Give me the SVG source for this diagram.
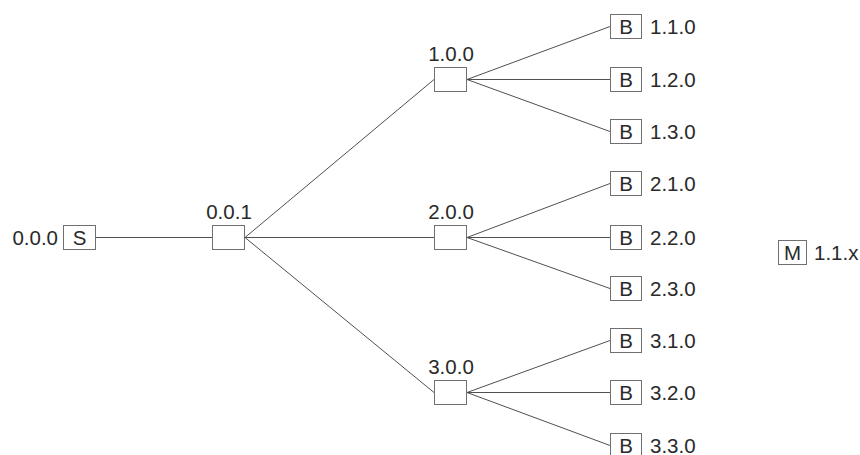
<svg xmlns="http://www.w3.org/2000/svg" width="860" height="455" viewBox="0 0 860 455">
<style>
  .box { fill: #ffffff; stroke: #707070; stroke-width: 1; }
  .t { font-family: "Liberation Sans", Arial, sans-serif; font-size: 20.5px; fill: #2a2a2a; }
  .c { text-anchor: middle; }
  .r { text-anchor: end; }
  .edge { stroke: #505050; stroke-width: 1; fill: none; }
</style>
<rect width="860" height="455" fill="#ffffff"/>
<g id="connectors">
  <line class="edge" x1="96" y1="237.5" x2="212" y2="237.5"/>
  <line class="edge" x1="245" y1="237.5" x2="434" y2="79.5"/>
  <line class="edge" x1="245" y1="237.5" x2="434" y2="237.5"/>
  <line class="edge" x1="245" y1="237.5" x2="434" y2="392.5"/>
  <line class="edge" x1="467" y1="79.5" x2="610" y2="26.5"/>
  <line class="edge" x1="467" y1="79.5" x2="610" y2="79.5"/>
  <line class="edge" x1="467" y1="79.5" x2="610" y2="131.5"/>
  <line class="edge" x1="467" y1="237.5" x2="610" y2="183.5"/>
  <line class="edge" x1="467" y1="237.5" x2="610" y2="237.5"/>
  <line class="edge" x1="467" y1="237.5" x2="610" y2="288.5"/>
  <line class="edge" x1="467" y1="392.5" x2="610" y2="340.5"/>
  <line class="edge" x1="467" y1="392.5" x2="610" y2="392.5"/>
  <line class="edge" x1="467" y1="392.5" x2="610" y2="445.5"/>
</g>
<g id="n000">
  <rect class="box" x="63.5" y="225.5" width="32" height="24"/>
  <text class="t c" x="79.5" y="245">S</text>
  <text class="t r" x="58" y="245">0.0.0</text>
</g>
<g id="n001">
  <rect class="box" x="212.5" y="225.5" width="32" height="24"/>
  <text class="t c" x="229" y="218.5">0.0.1</text>
</g>
<g id="n100">
  <rect class="box" x="434.5" y="67.5" width="32" height="24"/>
  <text class="t c" x="451" y="60.5">1.0.0</text>
</g>
<g id="n200">
  <rect class="box" x="434.5" y="225.5" width="32" height="24"/>
  <text class="t c" x="451" y="218.5">2.0.0</text>
</g>
<g id="n300">
  <rect class="box" x="434.5" y="380.5" width="32" height="24"/>
  <text class="t c" x="451" y="373.5">3.0.0</text>
</g>
<g id="n110">
  <rect class="box" x="610.5" y="14.5" width="31" height="24"/>
  <text class="t c" x="626" y="34">B</text>
  <text class="t" x="650" y="34">1.1.0</text>
</g>
<g id="n120">
  <rect class="box" x="610.5" y="67.5" width="31" height="24"/>
  <text class="t c" x="626" y="87">B</text>
  <text class="t" x="650" y="87">1.2.0</text>
</g>
<g id="n130">
  <rect class="box" x="610.5" y="119.5" width="31" height="24"/>
  <text class="t c" x="626" y="139">B</text>
  <text class="t" x="650" y="139">1.3.0</text>
</g>
<g id="n210">
  <rect class="box" x="610.5" y="171.5" width="31" height="24"/>
  <text class="t c" x="626" y="191">B</text>
  <text class="t" x="650" y="191">2.1.0</text>
</g>
<g id="n220">
  <rect class="box" x="610.5" y="225.5" width="31" height="24"/>
  <text class="t c" x="626" y="245">B</text>
  <text class="t" x="650" y="245">2.2.0</text>
</g>
<g id="n230">
  <rect class="box" x="610.5" y="276.5" width="31" height="24"/>
  <text class="t c" x="626" y="296">B</text>
  <text class="t" x="650" y="296">2.3.0</text>
</g>
<g id="n310">
  <rect class="box" x="610.5" y="328.5" width="31" height="24"/>
  <text class="t c" x="626" y="348">B</text>
  <text class="t" x="650" y="348">3.1.0</text>
</g>
<g id="n320">
  <rect class="box" x="610.5" y="380.5" width="31" height="24"/>
  <text class="t c" x="626" y="400">B</text>
  <text class="t" x="650" y="400">3.2.0</text>
</g>
<g id="n330">
  <rect class="box" x="610.5" y="433.5" width="31" height="24"/>
  <text class="t c" x="626" y="453">B</text>
  <text class="t" x="650" y="453">3.3.0</text>
</g>
<g id="legendM">
  <rect class="box" x="778.5" y="240.5" width="28" height="24"/>
  <text class="t c" x="792.5" y="260">M</text>
  <text class="t" x="814" y="260">1.1.x</text>
</g>
</svg>
